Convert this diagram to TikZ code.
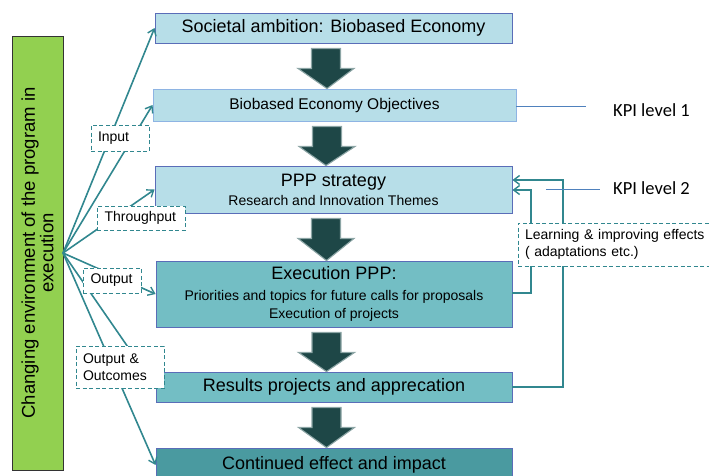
\documentclass[tikz,border=0pt]{standalone}
\usepackage{fontspec}
\setmainfont{Liberation Sans}
\newfontfamily\kpifont{Carlito}
\usetikzlibrary{calc,arrows.meta}
\definecolor{boxlight}{HTML}{B7DEE8}
\definecolor{boxmid}{HTML}{73BEC4}
\definecolor{boxdark}{HTML}{4A9AA0}
\definecolor{boxborder}{HTML}{5A6DB8}
\definecolor{boxborderl}{HTML}{8EB4E3}
\definecolor{arrfill}{HTML}{1E4747}
\definecolor{arrborder}{HTML}{8CA5A5}
\definecolor{tealline}{HTML}{31878F}
\definecolor{greenbox}{HTML}{92D050}
\definecolor{kpiline}{HTML}{4F81BD}
\newcommand\bigarr[2]{%
  \filldraw[bigarrow] ($(#1.south)+(-22,5)$) -- ($(#1.south)+(7,5)$) -- ($(#1.south)+(7,25)$)
   -- ($(#1.south)+(20.5,25)$) -- ($(#2.north)+(-7.5,0)$) -- ($(#1.south)+(-35.5,25)$)
   -- ($(#1.south)+(-22,25)$) -- cycle;}
\begin{document}
\begin{tikzpicture}[x=1pt,y=-1pt,
  f18/.style={font=\fontsize{18}{21}\selectfont},
  stagebox/.style={draw=boxborder, line width=0.9pt, inner sep=0pt, align=center, text=black},
  bigarrow/.style={fill=arrfill, draw=arrborder, line width=1.1pt, line join=miter},
  lbl/.style={draw=tealline, dash pattern=on 4pt off 2.5pt, fill=white, line width=0.8pt, align=left, inner sep=0pt,
     font=\fontsize{14}{16.5}\selectfont},
  conn/.style={draw=tealline, line width=1.6pt, -{Straight Barb[length=6pt,width=9pt,line width=1.4pt]}},
  kpi/.style={font=\kpifont\fontsize{18.5}{21}\selectfont, anchor=west, inner sep=0pt},
  kpil/.style={draw=kpiline, line width=0.7pt}]
\useasboundingbox (0,0) rectangle (709,475);
% green side box
\node[draw=black!80, line width=0.8pt, fill=greenbox, rotate=90, minimum width=434, minimum height=51,
  inner sep=0pt, align=center, font=\fontsize{18.5}{18.5}\selectfont] (env) at (37.5,253)
  {Changing environment of the program in\\execution};
\coordinate (src) at (63,253);
% stage boxes
\node[stagebox, fill=boxlight, minimum width=357, minimum height=30, f18] (b1) at (333.5,28) {Societal ambition: Biobased Economy};
\node[stagebox, draw=boxborderl, fill=boxlight, minimum width=363, minimum height=32, font=\fontsize{15.5}{18}\selectfont] (b2) at (334.5,105) {Biobased Economy Objectives};
\node[stagebox, fill=boxlight, minimum width=357, minimum height=47, font=\fontsize{14}{19}\selectfont] (b3) at (333.5,189.5)
  {{\fontsize{18}{19}\selectfont PPP strategy}\\Research and Innovation Themes};
\node[stagebox, fill=boxmid, minimum width=356, minimum height=66, font=\fontsize{14}{18}\selectfont] (b4) at (334,294)
  {{\fontsize{18}{20}\selectfont Execution PPP:}\\[3pt]Priorities and topics for future calls for proposals\\Execution of projects};
\node[stagebox, fill=boxmid, minimum width=356, minimum height=30, f18] (b5) at (334,387) {Results projects and apprecation};
\node[stagebox, fill=boxdark, minimum width=356, minimum height=34, f18] (b6) at (334,465) {Continued effect and impact};
% big arrows
\bigarr{b1}{b2}
\bigarr{b2}{b3}
\bigarr{b3}{b4}
\bigarr{b4}{b5}
\bigarr{b5}{b6}
% connectors from environment
\draw[conn] (src) -- (b1.west);
\draw[conn] (src) -- (b2.west);
\draw[conn] (src) -- (b3.west);
\draw[conn] (src) -- (b4.west);
\draw[conn] (src) -- (b5.west);
\draw[conn] (src) -- (b6.west);
% feedback loops
\draw[conn] (b4.east |- 0,293) -- (531,293) -- (531,190) -- (b3.east |- 0,190);
\draw[conn] (b5.east) -- (563,387) -- (563,180) -- (b3.east |- 0,180);
% KPI
\coordinate (k1end) at (586,106);
\draw[kpil] (b2.east |- k1end) -- (k1end);
\node[kpi] (kpi1) at (613,110) {KPI level 1};
\coordinate (k2a) at (546,189);
\coordinate (k2b) at (600,189);
\draw[kpil] (k2a) -- (k2b);
\node[kpi] (kpi2) at (613,188.5) {KPI level 2};
% labels
\node[lbl, minimum width=58, minimum height=26, text width=44] (lin) at (120,138) {Input};
\node[lbl, minimum width=88, minimum height=24, text width=73] (lthr) at (141,218) {Throughput};
\node[lbl, minimum width=58, minimum height=25, text width=43] (lout) at (112,280.5) {Output};
\node[lbl, minimum width=88, minimum height=42, text width=74] (loo) at (120,367) {Output \&\\Outcomes};
\node[lbl, minimum width=194, minimum height=43, text width=180] (llearn) at (615,244.5) {Learning \& improving effects\\( adaptations etc.)};
\end{tikzpicture}
\end{document}
